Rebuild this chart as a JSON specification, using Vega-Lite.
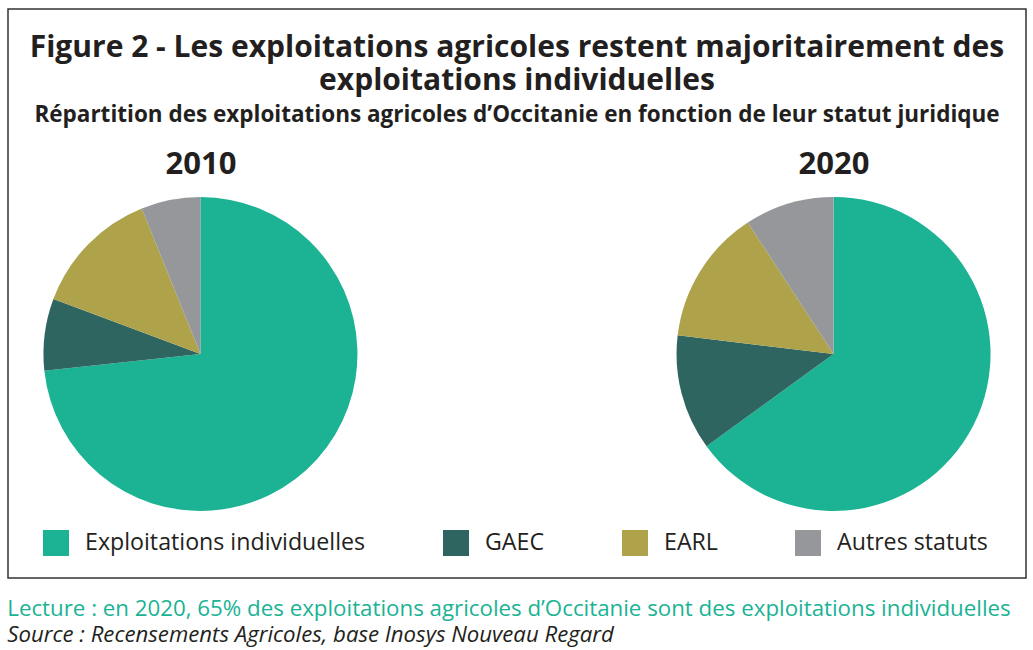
{
  "$schema": "https://vega.github.io/schema/vega-lite/v6.json",
  "padding": {"left": 7, "top": 8, "right": 5, "bottom": 5},
  "background": "white",
  "title": {
    "text": "Lecture : en 2020, 65% des exploitations agricoles d’Occitanie sont des exploitations individuelles",
    "subtitle": "Source : Recensements Agricoles, base Inosys Nouveau Regard",
    "orient": "bottom",
    "anchor": "start",
    "frame": "bounds",
    "offset": 19,
    "font": "Open Sans",
    "fontSize": 22.3,
    "fontWeight": "normal",
    "color": "#1ab394",
    "subtitleFont": "Open Sans",
    "subtitleFontSize": 22.2,
    "subtitleFontStyle": "italic",
    "subtitleColor": "#231f20",
    "subtitlePadding": 4
  },
  "vconcat": [
    {
      "width": 1018,
      "height": 569,
      "view": {"stroke": "#333333", "strokeWidth": 1.5},
      "title": {
        "text": ["Figure 2 - Les exploitations agricoles restent majoritairement des", "exploitations individuelles"],
        "subtitle": "Répartition des exploitations agricoles d’Occitanie en fonction de leur statut juridique",
        "orient": "top",
        "anchor": "middle",
        "offset": -117,
        "font": "Open Sans",
        "fontSize": 30,
        "fontWeight": "bold",
        "lineHeight": 33,
        "color": "#231f20",
        "subtitleFont": "Open Sans",
        "subtitleFontSize": 22.5,
        "subtitleFontWeight": "bold",
        "subtitleColor": "#231f20",
        "subtitlePadding": 8
      },
      "data": {
        "values": [
          {"year": "2010", "statut": "Exploitations individuelles", "k": 1, "pct": 73.3},
          {"year": "2010", "statut": "GAEC", "k": 2, "pct": 7.4},
          {"year": "2010", "statut": "EARL", "k": 3, "pct": 13.2},
          {"year": "2010", "statut": "Autres statuts", "k": 4, "pct": 6.1},
          {"year": "2020", "statut": "Exploitations individuelles", "k": 1, "pct": 65.0},
          {"year": "2020", "statut": "GAEC", "k": 2, "pct": 11.9},
          {"year": "2020", "statut": "EARL", "k": 3, "pct": 13.9},
          {"year": "2020", "statut": "Autres statuts", "k": 4, "pct": 9.2}
        ]
      },
      "transform": [
        {"stack": "pct", "groupby": ["year"], "sort": [{"field": "k", "order": "ascending"}], "as": ["t0", "t1"]}
      ],
      "mark": {"type": "arc", "outerRadius": 157},
      "encoding": {
        "x": {
          "field": "year",
          "type": "ordinal",
          "scale": {"type": "point", "padding": 0.304},
          "axis": {
            "orient": "top",
            "title": null,
            "domain": false,
            "ticks": false,
            "labelAngle": 0,
            "labelFont": "Open Sans",
            "labelFontSize": 31,
            "labelFontWeight": "bold",
            "labelColor": "#231f20",
            "labelPadding": 2,
            "offset": -173
          }
        },
        "y": {"value": 345},
        "theta": {"field": "t0", "type": "quantitative", "scale": {"domain": [0, 100]}},
        "theta2": {"field": "t1"},
        "color": {
          "field": "statut",
          "type": "nominal",
          "scale": {
            "domain": ["Exploitations individuelles", "GAEC", "EARL", "Autres statuts"],
            "range": ["#1bb394", "#2f6561", "#aea24b", "#96979b"]
          },
          "legend": {
            "title": null,
            "orient": "none",
            "direction": "horizontal",
            "legendX": 35,
            "legendY": 521,
            "symbolType": "square",
            "symbolSize": 676,
            "symbolStrokeWidth": 0,
            "symbolOpacity": 1,
            "labelFont": "Open Sans",
            "labelFontSize": 23.2,
            "labelColor": "#231f20",
            "labelOffset": 16,
            "labelLimit": 400,
            "columnPadding": 77
          }
        },
        "order": {"field": "k", "type": "quantitative"}
      }
    }
  ]
}
